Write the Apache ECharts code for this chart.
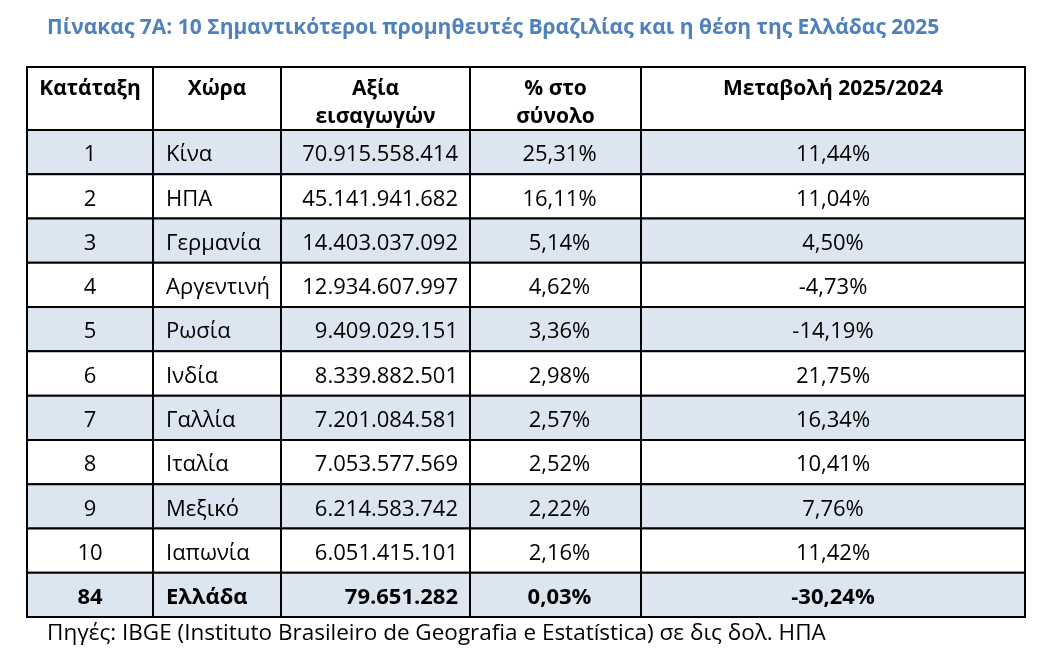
<!DOCTYPE html>
<html lang="el">
<head>
    <meta charset="UTF-8">
    <title>Πίνακας 7A</title>
    <script src="https://cdn.jsdelivr.net/npm/echarts@6/dist/echarts.min.js"></script>
    <style>
        html, body { margin: 0; padding: 0; background: #fff; }
        #table { width: 1064px; height: 668px; }
    </style>
</head>
<body>
<div id="table"></div>

<script>
    // table data
    var headers = ['Κατάταξη', 'Χώρα', 'Αξία\nεισαγωγών', '% στο\nσύνολο', 'Μεταβολή 2025/2024'];
    var ranks = [1, 2, 3, 4, 5, 6, 7, 8, 9, 10, 84];
    var countries = ['Κίνα', 'ΗΠΑ', 'Γερμανία', 'Αργεντινή', 'Ρωσία', 'Ινδία', 'Γαλλία', 'Ιταλία', 'Μεξικό', 'Ιαπωνία', 'Ελλάδα'];
    var importValues = [70915558414, 45141941682, 14403037092, 12934607997, 9409029151, 8339882501,
        7201084581, 7053577569, 6214583742, 6051415101, 79651282];
    var sharePct = [25.31, 16.11, 5.14, 4.62, 3.36, 2.98, 2.57, 2.52, 2.22, 2.16, 0.03];
    var changePct = [11.44, 11.04, 4.50, -4.73, -14.19, 21.75, 16.34, 10.41, 7.76, 11.42, -30.24];

    // column edges on the x axis (layout)
    var colEdges = [0, 126, 254, 443, 614, 998];
    var FONT = "'Open Sans', 'Noto Sans', sans-serif";

    function fmtInt(n){
        return String(n).replace(/\B(?=(\d{3})+(?!\d))/g, '.');
    }
    function fmtPct(v){
        return v.toFixed(2).replace('.', ',') + '%';
    }

    var cells = [];
    ranks.forEach(function(rank, r){
        var texts = [String(rank), countries[r], fmtInt(importValues[r]), fmtPct(sharePct[r]), fmtPct(changePct[r])];
        texts.forEach(function(t, c){
            cells.push([c, r, t]);
        });
    });
    var headCells = headers.map(function(h, c){ return [c, 0, h]; });

    function cellRect(api, c, r){
        var x0 = api.coord([colEdges[c], r])[0];
        var x1 = api.coord([colEdges[c + 1], r])[0];
        var yc = api.coord([0, r])[1];
        var h = api.size([0, 1])[1];
        return {x: x0, y: yc - h / 2, width: x1 - x0, height: h};
    }

    function renderBody(params, api){
        var c = api.value(0), r = api.value(1);
        var rect = cellRect(api, c, r);
        var text = cells[params.dataIndex][2];
        var bold = r === ranks.length - 1;
        var tx, align;
        if (c === 1) { tx = rect.x + 13; align = 'left'; }
        else if (c === 2) { tx = rect.x + rect.width - 12; align = 'right'; }
        else { tx = rect.x + rect.width / 2 + (c === 3 ? 4 : 0); align = 'center'; }
        return {
            type: 'group',
            children: [{
                type: 'rect',
                shape: rect,
                style: {fill: r % 2 === 0 ? '#dce6f1' : '#ffffff', stroke: '#000', lineWidth: 2}
            }, {
                type: 'text',
                style: {
                    text: text, x: tx, y: rect.y + rect.height / 2 + 3,
                    align: align, verticalAlign: 'middle',
                    font: (bold ? 'bold ' : '') + '22px ' + FONT, fill: '#000'
                }
            }]
        };
    }

    function renderHead(params, api){
        var c = api.value(0);
        var rect = cellRect(api, c, 0);
        return {
            type: 'group',
            children: [{
                type: 'rect',
                shape: rect,
                style: {fill: '#ffffff', stroke: '#000', lineWidth: 2}
            }, {
                type: 'text',
                style: {
                    text: headers[c], x: rect.x + rect.width / 2, y: rect.y + 8,
                    align: 'center', verticalAlign: 'top', lineHeight: 28,
                    font: 'bold 21px ' + FONT, fill: '#000'
                }
            }]
        };
    }

    var chartDom = document.getElementById('table');
    var myChart = echarts.init(chartDom);
    var option = {
        animation: false,
        title: [{
            text: 'Πίνακας 7A: 10 Σημαντικότεροι προμηθευτές Βραζιλίας και η θέση της Ελλάδας 2025',
            left: 47, top: 18, padding: 0,
            textStyle: {color: '#4f81bd', fontSize: 21, fontWeight: 'bold', fontFamily: FONT}
        }, {
            text: 'Πηγές: IBGE (Instituto Brasileiro de Geografia e Estatística) σε δις δολ. ΗΠΑ',
            left: 47, top: 622, padding: 0,
            textStyle: {color: '#000', fontSize: 22.5, fontWeight: 'normal', fontFamily: FONT}
        }],
        grid: [
            {left: 27, width: 998, top: 67, height: 63},
            {left: 27, width: 998, top: 130, height: 487}
        ],
        xAxis: [
            {gridIndex: 0, type: 'value', min: 0, max: 998, show: false},
            {gridIndex: 1, type: 'value', min: 0, max: 998, show: false}
        ],
        yAxis: [
            {gridIndex: 0, type: 'category', data: ['header'], show: false},
            {gridIndex: 1, type: 'category', inverse: true, data: ranks.map(String), show: false}
        ],
        series: [{
            type: 'custom',
            xAxisIndex: 0, yAxisIndex: 0,
            data: headCells.map(function(d){ return [d[0], d[1]]; }),
            renderItem: renderHead
        }, {
            type: 'custom',
            xAxisIndex: 1, yAxisIndex: 1,
            data: cells.map(function(d){ return [d[0], d[1]]; }),
            renderItem: renderBody
        }]
    };
    option && myChart.setOption(option);
</script>
</body>
</html>
